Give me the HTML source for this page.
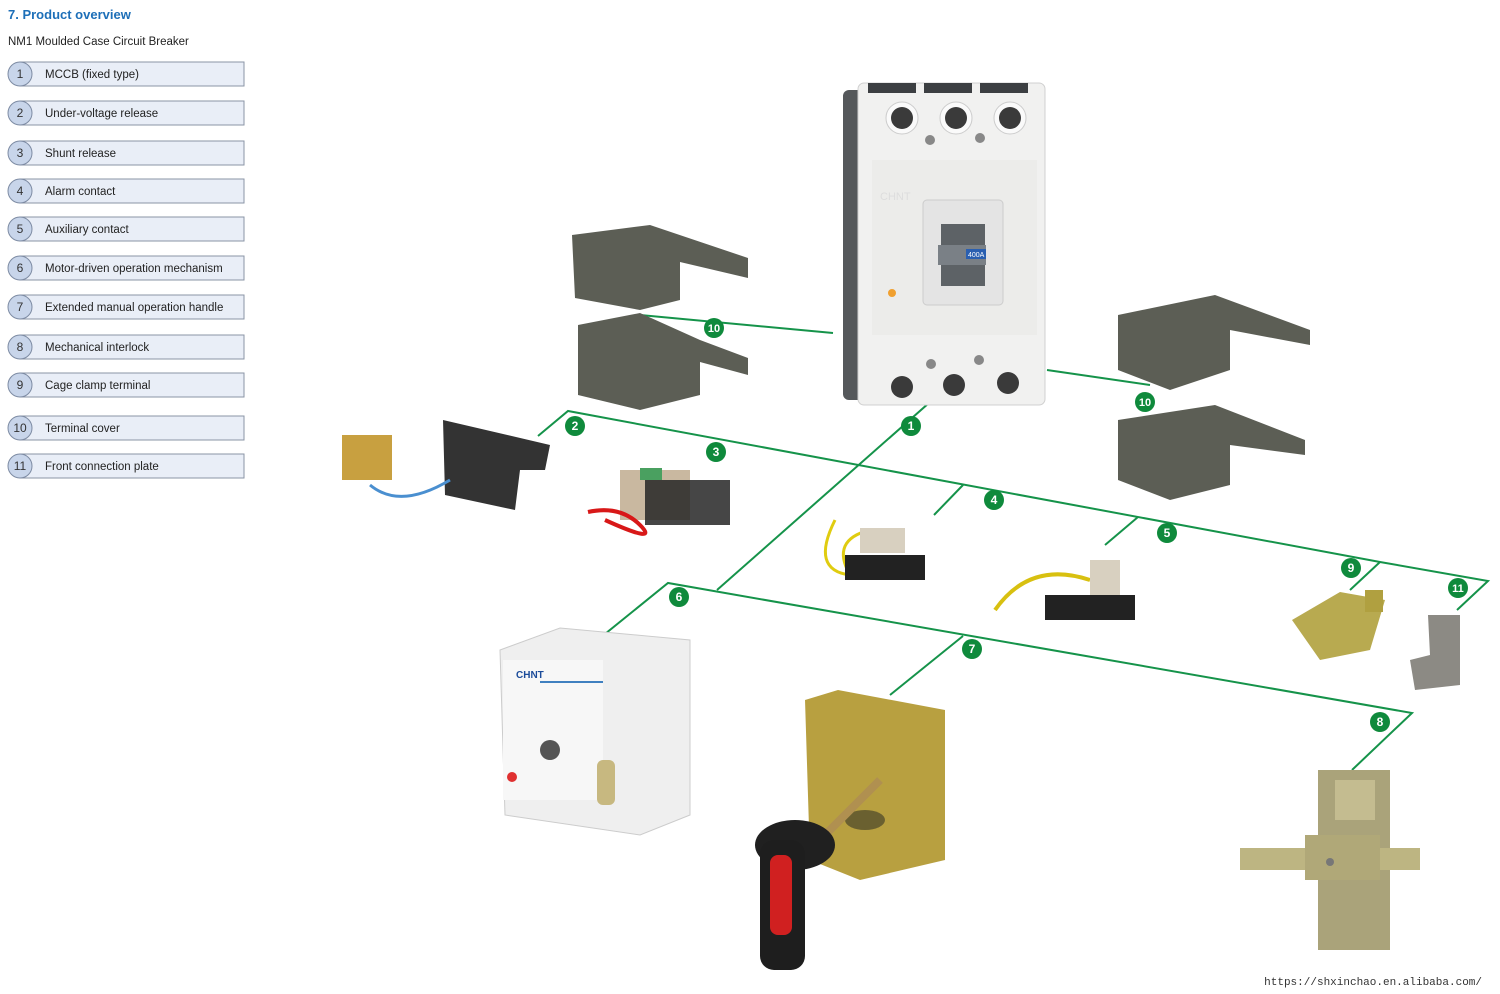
<!DOCTYPE html>
<html><head><meta charset="utf-8"><style>
body{margin:0;background:#fff;width:1500px;height:989px;overflow:hidden;font-family:"Liberation Sans",sans-serif}
</style></head><body>
<svg width="1500" height="989" viewBox="0 0 1500 989" xmlns="http://www.w3.org/2000/svg" font-family="Liberation Sans, sans-serif">
<text x="8" y="19" font-size="13" font-weight="bold" fill="#1d6fb8">7. Product overview</text>
<text x="8" y="45" font-size="11.5" fill="#222">NM1 Moulded Case Circuit Breaker</text>
<g stroke="#8a94a6" stroke-width="1">
<rect x="20" y="62" width="224" height="24" fill="#e9eef7"/><rect x="20" y="101" width="224" height="24" fill="#e9eef7"/><rect x="20" y="141" width="224" height="24" fill="#e9eef7"/><rect x="20" y="179" width="224" height="24" fill="#e9eef7"/><rect x="20" y="217" width="224" height="24" fill="#e9eef7"/><rect x="20" y="256" width="224" height="24" fill="#e9eef7"/><rect x="20" y="295" width="224" height="24" fill="#e9eef7"/><rect x="20" y="335" width="224" height="24" fill="#e9eef7"/><rect x="20" y="373" width="224" height="24" fill="#e9eef7"/><rect x="20" y="416" width="224" height="24" fill="#e9eef7"/><rect x="20" y="454" width="224" height="24" fill="#e9eef7"/>
</g>
<g fill="#c8d5ea" stroke="#7d8ba3" stroke-width="1">
<circle cx="20" cy="74" r="12"/><circle cx="20" cy="113" r="12"/><circle cx="20" cy="153" r="12"/><circle cx="20" cy="191" r="12"/><circle cx="20" cy="229" r="12"/><circle cx="20" cy="268" r="12"/><circle cx="20" cy="307" r="12"/><circle cx="20" cy="347" r="12"/><circle cx="20" cy="385" r="12"/><circle cx="20" cy="428" r="12"/><circle cx="20" cy="466" r="12"/>
</g>
<g font-size="12" fill="#333" text-anchor="middle">
<text x="20" y="78">1</text><text x="20" y="117">2</text><text x="20" y="157">3</text><text x="20" y="195">4</text><text x="20" y="233">5</text><text x="20" y="272">6</text><text x="20" y="311">7</text><text x="20" y="351">8</text><text x="20" y="389">9</text><text x="20" y="432">10</text><text x="20" y="470">11</text>
</g>
<g font-size="11.5" fill="#222">
<text x="45" y="78">MCCB (fixed type)</text><text x="45" y="117">Under-voltage release</text><text x="45" y="157">Shunt release</text><text x="45" y="195">Alarm contact</text><text x="45" y="233">Auxiliary contact</text><text x="45" y="272">Motor-driven operation mechanism</text><text x="45" y="311">Extended manual operation handle</text><text x="45" y="351">Mechanical interlock</text><text x="45" y="389">Cage clamp terminal</text><text x="45" y="432">Terminal cover</text><text x="45" y="470">Front connection plate</text>
</g>

<g stroke="#15934a" stroke-width="2" fill="none">
<polyline points="640,315 833,333"/>
<polyline points="1047,370 1150,385"/>
<polyline points="938,395 717,590"/>
<polyline points="538,436 568,411 1380,562 1488,581 1457,610"/>
<polyline points="1380,562 1350,590"/>
<polyline points="963,485 934,515"/>
<polyline points="1138,517 1105,545"/>
<polyline points="600,638 668,583 1412,713 1352,770"/>
<polyline points="963,636 890,695"/>
</g>

<!-- breaker -->
<rect x="843" y="90" width="30" height="310" rx="6" fill="#55585b"/>
<rect x="858" y="83" width="187" height="322" rx="6" fill="#f1f1f0" stroke="#d0d0d0"/>
<rect x="868" y="83" width="48" height="10" fill="#3c3f42"/><rect x="924" y="83" width="48" height="10" fill="#3c3f42"/><rect x="980" y="83" width="48" height="10" fill="#3c3f42"/>
<g fill="#fafafa" stroke="#ccc"><circle cx="902" cy="118" r="16"/><circle cx="956" cy="118" r="16"/><circle cx="1010" cy="118" r="16"/></g>
<g fill="#3a3a3a"><circle cx="902" cy="118" r="11"/><circle cx="956" cy="118" r="11"/><circle cx="1010" cy="118" r="11"/><circle cx="902" cy="387" r="11"/><circle cx="954" cy="385" r="11"/><circle cx="1008" cy="383" r="11"/></g>
<g fill="#888"><circle cx="930" cy="140" r="5"/><circle cx="980" cy="138" r="5"/><circle cx="931" cy="364" r="5"/><circle cx="979" cy="360" r="5"/></g>
<rect x="872" y="160" width="165" height="175" fill="#ececea"/>
<rect x="923" y="200" width="80" height="105" rx="4" fill="#e4e4e4" stroke="#ccc"/>
<rect x="941" y="224" width="44" height="62" fill="#5d6266"/>
<rect x="938" y="245" width="48" height="20" fill="#7a8086"/>
<rect x="966" y="249" width="20" height="10" fill="#2a5fb0"/>
<text x="968" y="257" font-size="7" fill="#fff">400A</text>
<circle cx="892" cy="293" r="4" fill="#f0a030"/>
<text x="880" y="200" font-size="11" fill="#ddd">CHNT</text>
<!-- terminal covers -->
<g fill="#5c5e55">
<polygon points="572,235 650,225 748,258 748,278 680,262 680,300 640,310 575,298"/>
<polygon points="578,325 640,313 700,340 748,358 748,375 700,362 700,395 640,410 578,395"/>
<polygon points="1118,315 1215,295 1310,330 1310,345 1230,330 1230,370 1170,390 1118,370"/>
<polygon points="1118,420 1215,405 1305,440 1305,455 1230,445 1230,485 1170,500 1118,480"/>
</g>
<rect x="342" y="435" width="50" height="45" fill="#c8a040"/>
<polygon points="443,420 550,445 545,470 520,470 515,510 445,495" fill="#333"/>
<path d="M370,485 Q400,510 450,480" stroke="#4a8fd0" stroke-width="3" fill="none"/>
<rect x="620" y="470" width="70" height="50" fill="#c9b8a0"/>
<rect x="645" y="480" width="85" height="45" fill="#262626" opacity=".85"/>
<rect x="640" y="468" width="22" height="12" fill="#4aa060"/>
<path d="M588,512 Q620,505 640,525 T605,520" stroke="#d81818" stroke-width="4" fill="none"/>
<path d="M835,520 Q810,570 850,575 Q830,540 870,530" stroke="#e0cc10" stroke-width="3" fill="none"/>
<rect x="860" y="528" width="45" height="25" fill="#d8d0c0"/>
<rect x="845" y="555" width="80" height="25" fill="#222"/>
<path d="M995,610 Q1030,560 1090,580" stroke="#d8c010" stroke-width="4" fill="none"/>
<rect x="1090" y="560" width="30" height="40" fill="#d8d0c0"/>
<rect x="1045" y="595" width="90" height="25" fill="#222"/>
<polygon points="1292,620 1340,592 1385,600 1370,650 1320,660" fill="#b8aa50"/>
<rect x="1365" y="590" width="18" height="22" fill="#b0a040"/>
<polygon points="1428,615 1460,615 1460,685 1415,690 1410,660 1430,655" fill="#8c8a84"/>
<!-- motor -->
<polygon points="500,650 560,628 690,640 690,815 640,835 505,815" fill="#efefef" stroke="#ccc"/>
<rect x="503" y="660" width="100" height="140" fill="#f7f7f7"/>
<text x="516" y="678" font-size="10" font-weight="bold" fill="#1c4c9a">CHNT</text>
<line x1="540" y1="682" x2="603" y2="682" stroke="#4080c0" stroke-width="2"/>
<circle cx="512" cy="777" r="5" fill="#e03030"/>
<circle cx="550" cy="750" r="10" fill="#555"/>
<rect x="597" y="760" width="18" height="45" rx="6" fill="#c7b880"/>
<!-- handle -->
<polygon points="805,700 838,690 945,710 945,860 860,880 810,860" fill="#b8a040"/>
<ellipse cx="865" cy="820" rx="20" ry="10" fill="#6a6030"/>
<line x1="810" y1="850" x2="880" y2="780" stroke="#b09050" stroke-width="8"/>
<ellipse cx="795" cy="845" rx="40" ry="25" fill="#202020"/>
<rect x="760" y="840" width="45" height="130" rx="14" fill="#1e1e1e"/>
<rect x="770" y="855" width="22" height="80" rx="8" fill="#d02020"/>
<!-- interlock -->
<rect x="1318" y="770" width="72" height="180" fill="#aaa37a"/>
<rect x="1240" y="848" width="180" height="22" fill="#bdb582"/>
<rect x="1305" y="835" width="75" height="45" fill="#b0a878"/>
<circle cx="1330" cy="862" r="4" fill="#777"/>
<rect x="1335" y="780" width="40" height="40" fill="#c4bc90"/>
<!-- badges -->
<g fill="#0f8a3c">
<circle cx="911" cy="426" r="10"/><circle cx="575" cy="426" r="10"/><circle cx="716" cy="452" r="10"/><circle cx="994" cy="500" r="10"/><circle cx="1167" cy="533" r="10"/><circle cx="679" cy="597" r="10"/><circle cx="972" cy="649" r="10"/><circle cx="1380" cy="722" r="10"/><circle cx="1351" cy="568" r="10"/><circle cx="1458" cy="588" r="10"/><circle cx="714" cy="328" r="10"/><circle cx="1145" cy="402" r="10"/>
</g>
<g fill="#fff" font-size="12" font-weight="bold" text-anchor="middle">
<text x="911" y="430">1</text><text x="575" y="430">2</text><text x="716" y="456">3</text><text x="994" y="504">4</text><text x="1167" y="537">5</text><text x="679" y="601">6</text><text x="972" y="653">7</text><text x="1380" y="726">8</text><text x="1351" y="572">9</text><text x="1458" y="592" font-size="11">11</text><text x="714" y="332" font-size="11">10</text><text x="1145" y="406" font-size="11">10</text>
</g>
<text x="1482" y="985" font-family="Liberation Mono, monospace" font-size="11" fill="#333" text-anchor="end">https://shxinchao.en.alibaba.com/</text>
</svg>
</body></html>
